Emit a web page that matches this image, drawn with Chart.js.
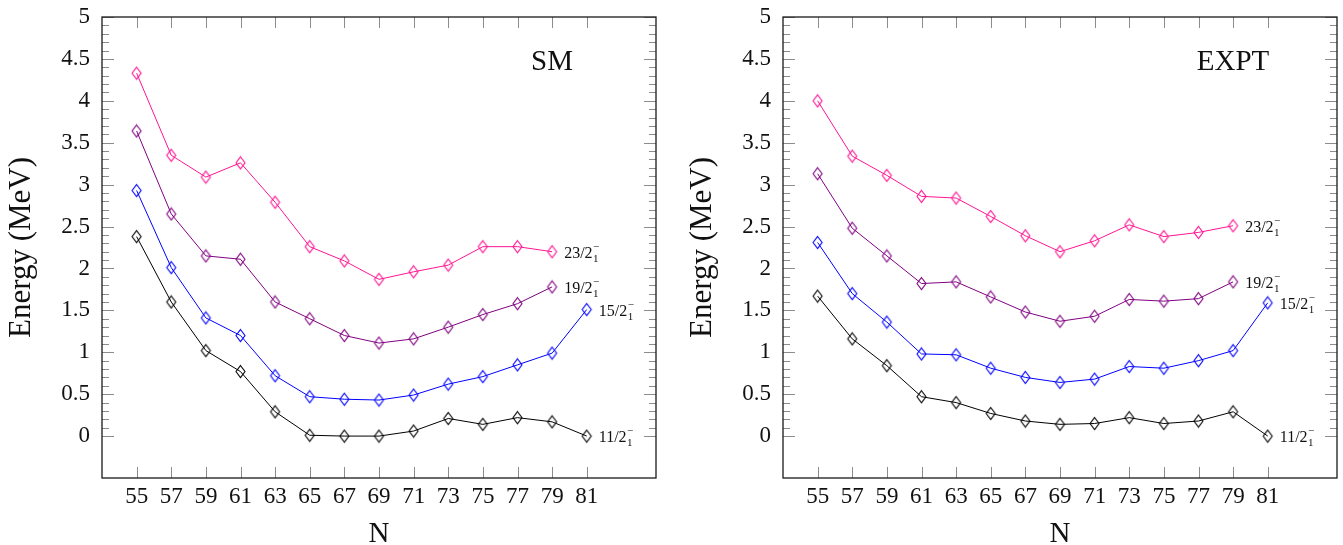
<!DOCTYPE html>
<html lang="en">

<head>
    <meta charset="UTF-8">
    <title>Yrast energies vs neutron number</title>
    <script src="https://cdn.jsdelivr.net/npm/chart.js"></script>
    <style>
        body { margin: 0; background: #fff; }
        #wrap { position: relative; width: 1343px; height: 545px; }
        .panel { position: absolute; top: 0; width: 662px; height: 545px; }
    </style>
</head>

<body>
    <div id="wrap">
        <div class="panel" style="left: 0;"><canvas id="smChart"></canvas></div>
        <div class="panel" style="left: 681px;"><canvas id="exptChart"></canvas></div>
    </div>

    <script>
        // neutron numbers on the x axis
        const nValues = [55, 57, 59, 61, 63, 65, 67, 69, 71, 73, 75, 77, 79, 81];
        const yTickValues = [0, 0.5, 1, 1.5, 2, 2.5, 3, 3.5, 4, 4.5, 5];

        // shell model energies (MeV)
        const sm11 = [2.38, 1.60, 1.02, 0.77, 0.29, 0.01, 0, 0, 0.06, 0.21, 0.14, 0.22, 0.17, 0];
        const sm15 = [2.93, 2.01, 1.41, 1.20, 0.72, 0.47, 0.44, 0.43, 0.49, 0.62, 0.71, 0.85, 0.99, 1.51];
        const sm19 = [3.64, 2.65, 2.15, 2.11, 1.60, 1.40, 1.20, 1.11, 1.16, 1.30, 1.45, 1.58, 1.78];
        const sm23 = [4.33, 3.35, 3.09, 3.26, 2.79, 2.26, 2.09, 1.87, 1.96, 2.04, 2.26, 2.26, 2.20];

        // experimental energies (MeV)
        const ex11 = [1.67, 1.16, 0.84, 0.47, 0.40, 0.27, 0.18, 0.14, 0.15, 0.22, 0.15, 0.18, 0.29, 0];
        const ex15 = [2.31, 1.70, 1.36, 0.98, 0.97, 0.81, 0.70, 0.64, 0.68, 0.83, 0.81, 0.90, 1.02, 1.59];
        const ex19 = [3.13, 2.48, 2.15, 1.82, 1.84, 1.66, 1.48, 1.37, 1.43, 1.63, 1.61, 1.64, 1.84];
        const ex23 = [4.00, 3.34, 3.11, 2.86, 2.84, 2.62, 2.39, 2.20, 2.33, 2.52, 2.38, 2.43, 2.51];

        // state labels (J/2, then subscript 1 and superscript minus)
        const stateNames = ['11/2', '15/2', '19/2', '23/2'];
        const stateColors = ['#000000', '#0000ff', '#800080', '#ff1493'];

        const xTitle = 'N';
        const yTitle = 'Energy (MeV)';
        const serif = 'Liberation Serif';

        // hollow diamond marker, a bit taller than wide
        function diamond(color) {
            const c = document.createElement('canvas');
            c.width = 13; c.height = 15;
            const g = c.getContext('2d');
            g.strokeStyle = color;
            g.lineWidth = 1.1;
            g.beginPath();
            g.moveTo(6.5, 1.5);
            g.lineTo(11, 7.5);
            g.lineTo(6.5, 13.5);
            g.lineTo(2, 7.5);
            g.closePath();
            g.stroke();
            return c;
        }

        function toPoints(values) {
            return values.map((v, i) => ({ x: nValues[i], y: v }));
        }

        // frame, inward ticks, axis text, panel tag and state labels
        const decorations = {
            id: 'decorations',
            afterDraw(chart, args, opts) {
                const { ctx, chartArea: a, scales: { x, y } } = chart;
                ctx.save();

                ctx.strokeStyle = '#8c8c8c';
                ctx.lineWidth = 1;
                ctx.beginPath();
                nValues.forEach(n => {
                    const px = Math.round(x.getPixelForValue(n)) + 0.5;
                    ctx.moveTo(px, a.top); ctx.lineTo(px, a.top + 11);
                    ctx.moveTo(px, a.bottom); ctx.lineTo(px, a.bottom - 11);
                });
                for (let k = 0; k <= 50; k++) {
                    const py = Math.round(y.getPixelForValue(k / 10)) + 0.5;
                    const len = k % 5 === 0 ? 12 : 7;
                    ctx.moveTo(a.left, py); ctx.lineTo(a.left + len, py);
                    ctx.moveTo(a.right, py); ctx.lineTo(a.right - len, py);
                }
                ctx.stroke();

                ctx.strokeStyle = '#1a1a1a';
                ctx.lineWidth = 1.3;
                ctx.strokeRect(a.left, a.top, a.right - a.left, a.bottom - a.top);

                ctx.fillStyle = '#111';

                // tick labels
                ctx.font = '23px ' + serif;
                ctx.textBaseline = 'middle';
                ctx.textAlign = 'right';
                yTickValues.forEach(v => ctx.fillText(String(v), a.left - 12, y.getPixelForValue(v)));
                ctx.textAlign = 'center';
                nValues.forEach(n => ctx.fillText(String(n), x.getPixelForValue(n), a.bottom + 19));

                // axis titles
                ctx.font = '29px ' + serif;
                ctx.fillText(xTitle, (a.left + a.right) / 2, a.bottom + 56);
                ctx.save();
                ctx.translate(22, (a.top + a.bottom) / 2);
                ctx.rotate(-Math.PI / 2);
                ctx.font = '31px ' + serif;
                ctx.fillText(yTitle, 0, 0);
                ctx.restore();

                // panel tag
                ctx.font = '29px ' + serif;
                ctx.fillText(opts.tag, a.right - 104, a.top + 45);

                chart.data.datasets.forEach((ds, i) => {
                    const pts = chart.getDatasetMeta(i).data;
                    const last = pts[pts.length - 1];
                    const lx = last.x + 12;
                    const ly = last.y;
                    ctx.textAlign = 'left';
                    ctx.textBaseline = 'alphabetic';
                    ctx.font = '16px ' + serif;
                    ctx.fillText(stateNames[i], lx, ly + 6);
                    const w = ctx.measureText(stateNames[i]).width;
                    ctx.font = '11px ' + serif;
                    ctx.fillText('1', lx + w + 0.5, ly + 10);
                    ctx.fillText('\u2212', lx + w + 0.5, ly - 2);
                });

                ctx.restore();
            }
        };

        function makeChart(id, tag, series) {
            const datasets = series.map((vals, i) => ({
                data: toPoints(vals),
                borderColor: stateColors[i],
                borderWidth: 1,
                pointStyle: diamond(stateColors[i]),
                pointRadius: 5,
                tension: 0
            }));

            return new Chart(document.getElementById(id), {
                type: 'line',
                data: { datasets: datasets },
                options: {
                    responsive: true,
                    maintainAspectRatio: false,
                    animation: false,
                    events: [],
                    layout: { padding: { top: 17, right: 6, bottom: 0, left: 0 } },
                    plugins: {
                        legend: { display: false },
                        tooltip: { enabled: false },
                        decorations: { tag: tag }
                    },
                    scales: {
                        x: {
                            type: 'linear',
                            min: 53,
                            max: 85,
                            grid: { display: false },
                            border: { display: false },
                            ticks: { display: false },
                            afterBuildTicks: s => { s.ticks = nValues.map(v => ({ value: v })); },
                            afterFit: s => { s.height = 67; s.paddingLeft = 0; s.paddingRight = 0; }
                        },
                        y: {
                            min: -0.5,
                            max: 5,
                            grid: { display: false },
                            border: { display: false },
                            ticks: { display: false },
                            afterBuildTicks: s => { s.ticks = yTickValues.map(v => ({ value: v })); },
                            afterFit: s => { s.width = 102; s.paddingTop = 0; s.paddingBottom = 0; }
                        }
                    }
                },
                plugins: [decorations]
            });
        }

        makeChart('smChart', 'SM', [sm11, sm15, sm19, sm23]);
        makeChart('exptChart', 'EXPT', [ex11, ex15, ex19, ex23]);
    </script>
</body>

</html>
